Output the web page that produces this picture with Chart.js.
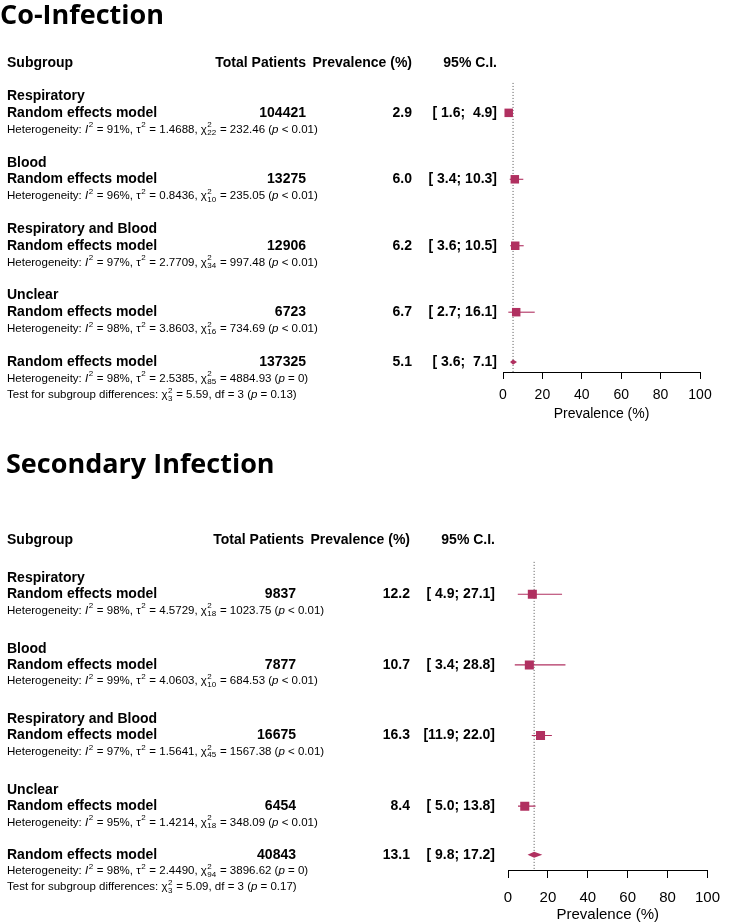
<!DOCTYPE html>
<html>
<head>
<meta charset="utf-8">
<script src="https://cdn.jsdelivr.net/npm/chart.js@4.4.1/dist/chart.umd.min.js"></script>
<style>
  body { margin: 0; background: #fff; }
  canvas { position: absolute; left: 0; }
  #coChart { top: 0; }
  #secChart { top: 440px; }
</style>
</head>
<body>
<canvas id="coChart" width="731" height="440"></canvas>
<canvas id="secChart" width="731" height="484"></canvas>
<script>
// subgroups and axis
const groups = ['Respiratory', 'Blood', 'Respiratory and Blood', 'Unclear'];
const xTickValues = [0, 20, 40, 60, 80, 100];

// Co-Infection
const coTotal = [104421, 13275, 12906, 6723];
const coPrev = [2.9, 6.0, 6.2, 6.7];
const coLower = [1.6, 3.4, 3.6, 2.7];
const coUpper = [4.9, 10.3, 10.5, 16.1];
const coI2 = [91, 96, 97, 98];
const coTau2 = ['1.4688', '0.8436', '2.7709', '3.8603'];
const coDf = [22, 10, 34, 16];
const coQ = ['232.46', '235.05', '997.48', '734.69'];
const coP = ['< 0.01', '< 0.01', '< 0.01', '< 0.01'];
const coOverall = { total: 137325, prev: 5.1, lower: 3.6, upper: 7.1, i2: 98, tau2: '2.5385', df: 85, q: '4884.93', p: '= 0' };
const coTest = { q: '5.59', df: 3, p: '0.13' };

// Secondary Infection
const secTotal = [9837, 7877, 16675, 6454];
const secPrev = [12.2, 10.7, 16.3, 8.4];
const secLower = [4.9, 3.4, 11.9, 5.0];
const secUpper = [27.1, 28.8, 22.0, 13.8];
const secI2 = [98, 99, 97, 95];
const secTau2 = ['4.5729', '4.0603', '1.5641', '1.4214'];
const secDf = [18, 10, 45, 18];
const secQ = ['1023.75', '684.53', '1567.38', '348.09'];
const secP = ['< 0.01', '< 0.01', '< 0.01', '< 0.01'];
const secOverall = { total: 40843, prev: 13.1, lower: 9.8, upper: 17.2, i2: 98, tau2: '2.4490', df: 94, q: '3896.62', p: '= 0' };
const secTest = { q: '5.09', df: 3, p: '0.17' };

const MAROON = '#B03060';
const FONT = '"Liberation Sans", Arial, Helvetica, sans-serif';
const HET_SIZE = 11.5;

// R style: each bound padded to 4 chars with plain spaces
function ci(lo, hi) {
  return '[' + lo.toFixed(1).padStart(4, ' ') + '; ' + hi.toFixed(1).padStart(4, ' ') + ']';
}

// rich text: plain strings, {it}, {sup}, {sup, sub}
function drawRich(ctx, x, y, parts, size) {
  const small = Math.round(size * 0.72);
  ctx.textBaseline = 'middle';
  ctx.textAlign = 'left';
  parts.forEach(part => {
    if (typeof part === 'string') {
      ctx.font = size + 'px ' + FONT;
      ctx.fillText(part, x, y);
      x += ctx.measureText(part).width;
    } else if (part.it) {
      ctx.font = 'italic ' + size + 'px ' + FONT;
      ctx.fillText(part.it, x, y);
      x += ctx.measureText(part.it).width;
    } else {
      ctx.font = small + 'px ' + FONT;
      let w = 0;
      if (part.sup) {
        ctx.fillText(part.sup, x + 0.5, y - size * 0.38);
        w = ctx.measureText(part.sup).width;
      }
      if (part.sub) {
        ctx.fillText(part.sub, x + 0.5, y + size * 0.3);
        w = Math.max(w, ctx.measureText(part.sub).width);
      }
      x += w + 1;
    }
  });
}

function hetParts(i2, tau2, df, q, p) {
  return ['Heterogeneity: ', { it: 'I' }, { sup: '2' }, ' = ' + i2 + '%, \u03c4', { sup: '2' },
    ' = ' + tau2 + ', \u03c7', { sup: '2', sub: String(df) }, ' = ' + q + ' (', { it: 'p' }, ' ' + p + ')'];
}

function makePanel(p) {
  const labelLine = groups.map((g, b) => p.firstLine + b * p.pitch);
  const remLine = labelLine.map(l => l + 1);
  const overallLine = remLine[remLine.length - 1] + 3;

  const squares = {
    data: p.prev.map((v, i) => ({ x: v, y: remLine[i] })),
    pointStyle: 'rect', pointRadius: p.squareR, backgroundColor: MAROON, borderColor: MAROON, borderWidth: 0
  };
  const ciLines = p.prev.map((v, i) => ({
    data: [{ x: p.lower[i], y: remLine[i] }, { x: p.upper[i], y: remLine[i] }],
    showLine: true, borderColor: MAROON, borderWidth: 1.1, pointRadius: 0
  }));
  const refLine = {
    data: [{ x: p.overall.prev, y: p.refTop }, { x: p.overall.prev, y: p.yMax }],
    showLine: true, borderColor: '#555', borderWidth: 1, borderDash: [1, 2], pointRadius: 0
  };

  const diamondPlugin = {
    id: 'diamond',
    afterDatasetsDraw(chart) {
      const { ctx, scales: { x, y } } = chart;
      const yc = y.getPixelForValue(overallLine);
      const o = p.overall;
      ctx.save();
      ctx.fillStyle = MAROON;
      ctx.beginPath();
      ctx.moveTo(x.getPixelForValue(o.lower), yc);
      ctx.lineTo(x.getPixelForValue(o.prev), yc - p.diamondH);
      ctx.lineTo(x.getPixelForValue(o.upper), yc);
      ctx.lineTo(x.getPixelForValue(o.prev), yc + p.diamondH);
      ctx.closePath();
      ctx.fill();
      ctx.restore();
    }
  };

  const textPlugin = {
    id: 'tableText',
    afterDraw(chart) {
      const { ctx, scales: { y } } = chart;
      const col = p.cols;
      const bold = 'bold 14px ' + FONT;
      ctx.save();
      ctx.fillStyle = '#000';

      // panel title
      ctx.font = 'bold 27px "Open Sans", sans-serif';
      ctx.textBaseline = 'alphabetic';
      ctx.textAlign = 'left';
      ctx.fillText(p.title, p.titleX, p.titleY);

      // header
      ctx.font = bold;
      ctx.textBaseline = 'middle';
      const hy = y.getPixelForValue(0);
      ctx.textAlign = 'left';
      ctx.fillText('Subgroup', col.label, hy);
      ctx.textAlign = 'right';
      ctx.fillText('Total Patients', col.totalHead, hy);
      ctx.fillText('Prevalence (%)', col.prev, hy);
      ctx.fillText('95% C.I.', col.ci, hy);

      const row = (yy, total, prev, lo, hi) => {
        ctx.font = bold;
        ctx.textAlign = 'left';
        ctx.fillText('Random effects model', col.label, yy);
        ctx.textAlign = 'right';
        ctx.fillText(String(total), col.total, yy);
        ctx.fillText(prev.toFixed(1), col.prev, yy);
        ctx.fillText(ci(lo, hi), col.ci, yy);
      };

      groups.forEach((g, i) => {
        ctx.font = bold;
        ctx.textAlign = 'left';
        ctx.fillText(g, col.label, y.getPixelForValue(labelLine[i]));
        row(y.getPixelForValue(remLine[i]), p.total[i], p.prev[i], p.lower[i], p.upper[i]);
        drawRich(ctx, col.label, y.getPixelForValue(remLine[i] + 1),
          hetParts(p.i2[i], p.tau2[i], p.df[i], p.q[i], p.pv[i]), HET_SIZE);
      });

      const o = p.overall;
      row(y.getPixelForValue(overallLine), o.total, o.prev, o.lower, o.upper);
      drawRich(ctx, col.label, y.getPixelForValue(overallLine + 1), hetParts(o.i2, o.tau2, o.df, o.q, o.p), HET_SIZE);
      drawRich(ctx, col.label, y.getPixelForValue(overallLine + 2),
        ['Test for subgroup differences: \u03c7', { sup: '2', sub: String(p.test.df) },
          ' = ' + p.test.q + ', df = ' + p.test.df + ' (', { it: 'p' }, ' = ' + p.test.p + ')'], HET_SIZE);
      ctx.restore();
    }
  };

  return new Chart(document.getElementById(p.canvas), {
    type: 'scatter',
    data: { datasets: [squares, ...ciLines, refLine] },
    options: {
      responsive: false,
      animation: false,
      devicePixelRatio: 1,
      layout: { padding: { left: p.plotLeft, right: p.plotRight, top: p.plotTop, bottom: 0 } },
      plugins: { legend: { display: false }, tooltip: { enabled: false } },
      scales: {
        x: {
          type: 'linear',
          min: 0,
          max: 100,
          afterBuildTicks: s => { s.ticks = xTickValues.map(v => ({ value: v })); },
          afterFit: s => { s.height = p.axisH; },
          ticks: { color: '#000', font: { family: FONT, size: p.tickSize }, padding: p.tickPad, maxRotation: 0, autoSkip: false },
          grid: { drawOnChartArea: false, drawTicks: true, tickLength: p.tickLen, color: '#000', lineWidth: 1 },
          border: { display: true, color: '#000', width: 1 },
          title: { display: true, text: 'Prevalence (%)', color: '#000', font: { family: FONT, size: p.tickSize }, padding: { top: 0, bottom: p.titlePad } }
        },
        y: { type: 'linear', display: false, reverse: true, min: 0, max: p.yMax }
      }
    },
    plugins: [diamondPlugin, textPlugin]
  });
}

makePanel({
  canvas: 'coChart', title: 'Co-Infection', titleX: 0, titleY: 24,
  total: coTotal, prev: coPrev, lower: coLower, upper: coUpper,
  i2: coI2, tau2: coTau2, df: coDf, q: coQ, pv: coP, overall: coOverall, test: coTest,
  firstLine: 2, pitch: 4, yMax: 18.6, refTop: 1.2,
  plotLeft: 503, plotRight: 31, plotTop: 63,
  axisH: 68, tickLen: 7, tickPad: 8, tickSize: 14, titlePad: 17,
  squareR: 6, diamondH: 2.6,
  cols: { label: 7, totalHead: 306, total: 306, prev: 412, ci: 497 }
});

makePanel({
  canvas: 'secChart', title: 'Secondary Infection', titleX: 6, titleY: 33,
  total: secTotal, prev: secPrev, lower: secLower, upper: secUpper,
  i2: secI2, tau2: secTau2, df: secDf, q: secQ, pv: secP, overall: secOverall, test: secTest,
  firstLine: 2.35, pitch: 4.36, yMax: 20.37, refTop: 1.35,
  plotLeft: 508, plotRight: 12, plotTop: 100,
  axisH: 54, tickLen: 8, tickPad: 11, tickSize: 15, titlePad: 0,
  squareR: 6.4, diamondH: 3,
  cols: { label: 7, totalHead: 304, total: 296, prev: 410, ci: 495 }
});
</script>
</body>
</html>
